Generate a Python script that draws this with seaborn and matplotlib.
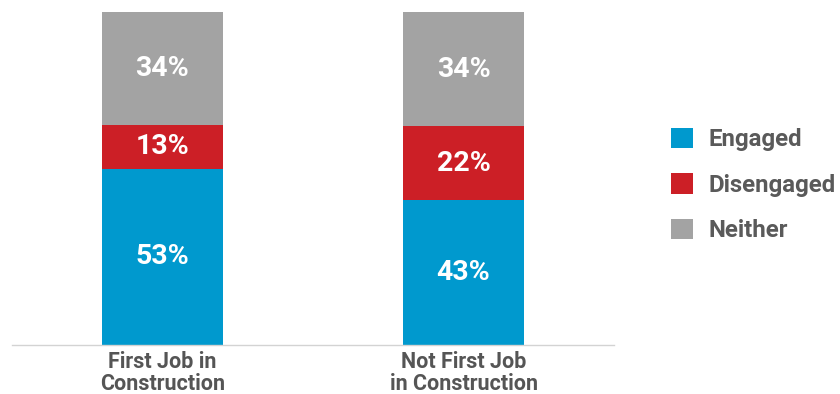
import matplotlib
matplotlib.use("Agg")
import matplotlib.pyplot as plt
from matplotlib.patches import Patch
import seaborn as sns
import pandas as pd
import numpy as np

categories = ["First Job in\nConstruction", "Not First Job\nin Construction"]
engaged = [53, 43]
disengaged = [13, 22]
neither = [34, 34]
series_names = ["Engaged", "Disengaged", "Neither"]
colors = ["#0099CE", "#CC1F26", "#A3A3A3"]

sns.set_theme(style="white")
plt.rcParams["font.family"] = ["Roboto", "DejaVu Sans"]

eng = np.array(engaged, float)
dis = np.array(disengaged, float)
nei = np.array(neither, float)
tot = eng + dis + nei
# 100% stacked shares
eng_s = eng / tot * 100
dis_s = dis / tot * 100
nei_s = nei / tot * 100

df = pd.DataFrame({
    "cat": categories,
    "top": eng_s + dis_s + nei_s,
    "mid": eng_s + dis_s,
    "low": eng_s,
})

fig = plt.figure(figsize=(8.4, 3.94), dpi=100)
ax = fig.add_axes([12 / 840, 1 - 345 / 394, 602 / 840, 333 / 394])

sns.barplot(data=df, x="cat", y="top", color=colors[2], width=0.4, ax=ax, saturation=1, linewidth=0)
sns.barplot(data=df, x="cat", y="mid", color=colors[1], width=0.4, ax=ax, saturation=1, linewidth=0)
sns.barplot(data=df, x="cat", y="low", color=colors[0], width=0.4, ax=ax, saturation=1, linewidth=0)

ax.set_xlim(-0.5, 1.5)
ax.set_ylim(0, 100)
ax.set_xlabel("")
ax.set_ylabel("")
ax.set_yticks([])
for s in ["top", "left", "right"]:
    ax.spines[s].set_visible(False)
ax.spines["bottom"].set_color("#D3D3D3")
ax.spines["bottom"].set_linewidth(1.0)
ax.tick_params(axis="x", length=0, pad=4)
for lab in ax.get_xticklabels():
    lab.set_fontsize(15.5)
    lab.set_fontweight("semibold")
    lab.set_color("#555555")
    lab.set_linespacing(1.0)

vals = [engaged, disengaged, neither]
bottoms = [np.zeros(2), eng_s, eng_s + dis_s]
heights = [eng_s, dis_s, nei_s]
for v, b, h in zip(vals, bottoms, heights):
    for i in range(2):
        ax.text(i, b[i] + h[i] / 2, f"{v[i]}%", ha="center", va="center",
                color="white", fontsize=20.5, fontweight="bold")

handles = [Patch(facecolor=c, edgecolor="none") for c in colors]
leg = fig.legend(handles, series_names, loc="center left",
                 bbox_to_anchor=(659 / 840, 1 - 185 / 394), frameon=False,
                 borderpad=0, handlelength=0.92, handleheight=0.92,
                 handletextpad=0.62, labelspacing=0.92,
                 prop={"family": "Roboto", "weight": "bold", "size": 17.3})
for t in leg.get_texts():
    t.set_color("#5A5A5A")

fig.savefig("out.png", dpi=100)
